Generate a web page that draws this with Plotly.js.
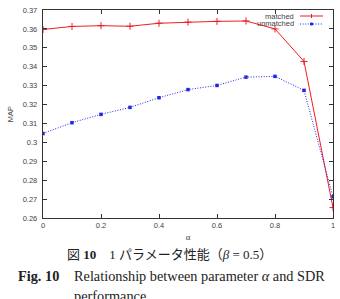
<!DOCTYPE html>
<html>
<head>
<meta charset="utf-8">
<script src="https://cdn.plot.ly/plotly-3.0.1.min.js"></script>
<style>
  html, body { margin: 0; padding: 0; background: #fff; }
  #chart { width: 340px; height: 299px; }
</style>
</head>
<body>
<div id="chart"></div>
<script>
// MAP against the weighting parameter alpha (beta fixed at 0.5)
const alpha = [0, 0.1, 0.2, 0.3, 0.4, 0.5, 0.6, 0.7, 0.8, 0.9, 1.0];
const matched = [0.3597, 0.3613, 0.3617, 0.3614, 0.3630, 0.3636, 0.3640, 0.3642, 0.3600, 0.3428, 0.2655];
const unmatched = [0.3047, 0.3104, 0.3148, 0.3185, 0.3236, 0.3279, 0.3301, 0.3345, 0.3349, 0.3275, 0.2712];
const seriesNames = ['matched', 'unmatched'];

const RED = '#ee1c24';
const BLUE = '#2424e8';
const INK = '#444';
const tickFont = { family: 'Liberation Sans, Arial, sans-serif', size: 7.5, color: INK };
const capFont = { family: 'Liberation Serif, "Noto Sans CJK JP", serif', size: 14.3, color: '#222' };
const capFontJa = { family: 'Liberation Serif, "Noto Sans CJK JP", serif', size: 13, color: '#222' };

// plot-area geometry in pixels, used to place the caption and key in paper units
const L = 43, R = 333, T = 10, B = 218;
const px = x => (x - L) / (R - L);
const py = y => (B - y) / (B - T);

const traces = [
  {
    x: alpha, y: matched, name: seriesNames[0], type: 'scatter', mode: 'lines+markers',
    line: { color: RED, width: 1 },
    marker: { symbol: 'cross-thin', size: 5, line: { color: RED, width: 1 } },
    cliponaxis: true, showlegend: false
  },
  {
    x: alpha, y: unmatched, name: seriesNames[1], type: 'scatter', mode: 'lines+markers',
    line: { color: BLUE, width: 1, dash: '1px,1.6px' },
    marker: { symbol: 'square', size: 3.5, color: BLUE },
    cliponaxis: true, showlegend: false
  }
];

const axisCommon = {
  showline: true, linecolor: '#333', linewidth: 1.2, mirror: 'ticks',
  ticks: 'inside', ticklen: 4, tickcolor: '#333', tickwidth: 1,
  showgrid: false, zeroline: false, tickfont: tickFont
};

// key: text on the left, line sample with marker on the right
const keyY = [16, 24];
const keyText = seriesNames.map((n, i) => ({
  text: n, xref: 'paper', yref: 'paper', x: px(296), y: py(keyY[i]),
  xanchor: 'right', yanchor: 'middle', showarrow: false,
  font: { family: 'Liberation Sans, Arial, sans-serif', size: 7.5, color: INK }
}));
const keyShapes = [
  { type: 'line', xref: 'paper', yref: 'paper', x0: px(300), x1: px(323), y0: py(keyY[0]), y1: py(keyY[0]),
    line: { color: RED, width: 1 } },
  { type: 'line', xref: 'paper', yref: 'paper', x0: px(311.5), x1: px(311.5), y0: py(keyY[0] - 2), y1: py(keyY[0] + 2),
    line: { color: RED, width: 1 } },
  { type: 'line', xref: 'paper', yref: 'paper', x0: px(300), x1: px(323), y0: py(keyY[1]), y1: py(keyY[1]),
    line: { color: BLUE, width: 1, dash: '1px,1.6px' } },
  { type: 'rect', xref: 'paper', yref: 'paper', x0: px(310.5), x1: px(312.5), y0: py(keyY[1] - 1), y1: py(keyY[1] + 1),
    line: { color: BLUE, width: 1 }, fillcolor: BLUE }
];

const caption = [
  { text: '図 <b>10</b>　1 パラメータ性能（<i>β</i> = 0.5）', x: px(169), y: py(254), xanchor: 'center', font: capFontJa },
  { text: '<b>Fig. 10</b>', x: px(16), y: py(276), xanchor: 'left' },
  { text: 'Relationship between parameter <i>α</i> and SDR', x: px(72), y: py(276), xanchor: 'left' },
  { text: 'performance', x: px(72), y: py(296), xanchor: 'left' }
].map(a => Object.assign({ xref: 'paper', yref: 'paper', yanchor: 'middle', showarrow: false, font: capFont }, a));

const layout = {
  width: 340, height: 299,
  margin: { l: L, r: 340 - R, t: T, b: 299 - B },
  paper_bgcolor: '#fff', plot_bgcolor: '#fff',
  showlegend: false,
  xaxis: Object.assign({}, axisCommon, {
    range: [0, 1], dtick: 0.2, tick0: 0,
    title: { text: 'α', font: { family: 'Liberation Serif, serif', size: 9, color: INK }, standoff: 4 }
  }),
  yaxis: Object.assign({}, axisCommon, {
    range: [0.26, 0.37], dtick: 0.01, tick0: 0.26, ticklabelstandoff: 3,
    title: { text: 'MAP', font: { family: 'Liberation Sans, Arial, sans-serif', size: 7.5, color: INK }, standoff: 8 }
  }),
  annotations: keyText.concat(caption),
  shapes: keyShapes
};

Plotly.newPlot('chart', traces, layout, { staticPlot: true, displayModeBar: false });
</script>
</body>
</html>
